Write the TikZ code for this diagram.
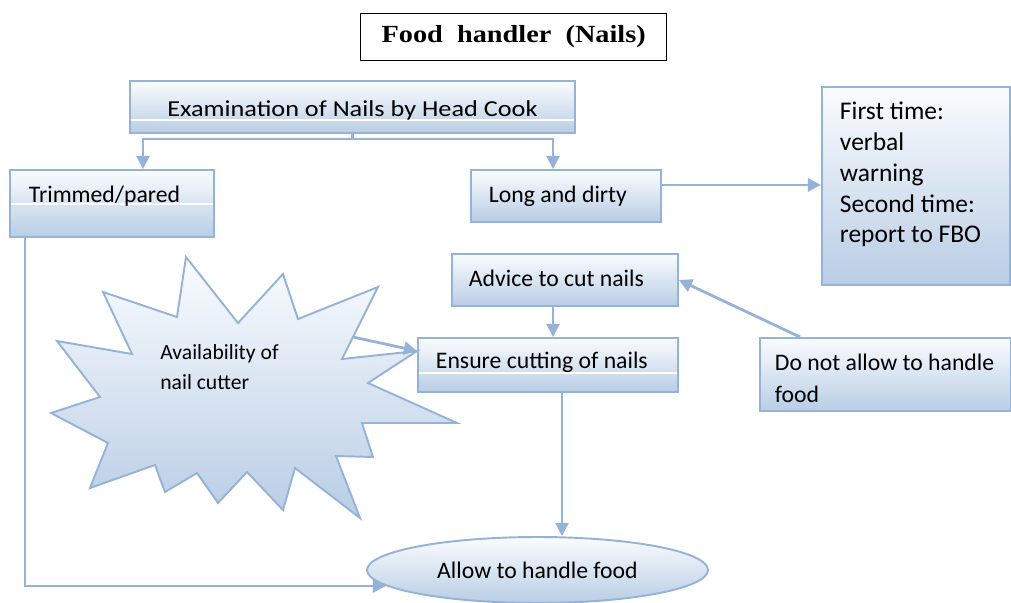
\documentclass[tikz,border=0pt]{standalone}
\usepackage{fontspec}
\setmainfont{Carlito}
\newfontfamily\stretchfont[FakeStretch=1.15]{Carlito}
\newfontfamily\titlefont[FakeStretch=1.15]{Liberation Serif}
\usetikzlibrary{arrows.meta,shapes.geometric}
\definecolor{NailEdge}{HTML}{95B3D7}
\definecolor{NailFill}{HTML}{B9CDE5}
\definecolor{NailTop}{HTML}{FAFCFE}

\begin{document}
\begin{tikzpicture}[
    box/.style={draw=NailEdge,line width=1.1pt,top color=NailTop,bottom color=NailFill,anchor=north west,inner ysep=0pt,align=flush left,font=\fontsize{13.5}{18.2}\selectfont},
    glossbox/.style={box,path picture={\draw[white,line width=0.8pt] ([yshift=#1]path picture bounding box.south west) -- ([yshift=#1]path picture bounding box.south east);}},
    burst/.style={draw=NailEdge,line width=1.1pt,top color=NailTop,bottom color=NailFill,line join=miter},
    arrow/.style={-{Triangle[length=7.5pt,width=7.5pt]},line width=1.6pt,draw=NailEdge},
    thinarrow/.style={arrow,line width=1.2pt}
  ]
    \useasboundingbox (0,0) rectangle (20.22,-12.06);
    \node[draw=black,line width=0.8pt,anchor=north west,inner xsep=0.2cm,inner ysep=0pt,text width=5.72cm,text height=0.58cm,text depth=0.36cm,align=flush center,font=\titlefont\fontsize{14}{17}\selectfont\bfseries] (title) at (7.2,-0.26) {Food\ \ handler\ \ (Nails)};
    \node[glossbox=0.26cm,inner xsep=0.3cm,text width=8.3cm,text height=0.71cm,text depth=0.33cm,align=flush center,font=\stretchfont\fontsize{13}{16}\selectfont] (exam) at (2.58,-1.6) {Examination of Nails by Head Cook};
    \node[glossbox=0.66cm,inner xsep=0.38cm,text width=3.32cm,text height=0.66cm,text depth=0.68cm] (trim) at (0.18,-3.38) {Trimmed/pared};
    \node[box,inner xsep=0.36cm,text width=3.08cm,text height=0.66cm,text depth=0.38cm] (long) at (9.4,-3.38) {Long and dirty};
    \node[box,inner xsep=0.36cm,text width=3.04cm,text height=0.66cm,text depth=3.30cm,font=\fontsize{14.5}{17.5}\selectfont] (info) at (16.42,-1.72) {First time:\\verbal\\warning\\Second time:\\report to FBO};
    \node[box,inner xsep=0.34cm,text width=3.84cm,text height=0.66cm,text depth=0.38cm] (advice) at (9.02,-5.06) {Advice to cut nails};
    \node[glossbox=0.38cm,inner xsep=0.36cm,text width=4.48cm,text height=0.62cm,text depth=0.46cm] (ensure) at (8.34,-6.74) {Ensure cutting of nails};
    \node[box,inner xsep=0.3cm,text width=4.42cm,text height=0.66cm,text depth=0.8cm] (donot) at (15.18,-6.74) {Do not allow to handle\\food};
    \node[ellipse,draw=NailEdge,line width=1.1pt,top color=NailTop,bottom color=NailFill,minimum width=6.82cm,minimum height=1.32cm,inner sep=0pt,font=\fontsize{13.5}{16}\selectfont] (allow) at (10.75,-11.40) {Allow to handle food};

    \draw[burst] (3.72,-5.14) -- (4.76,-6.46) -- (5.66,-5.48) -- (5.96,-6.38) -- (7.56,-5.74) -- (6.84,-7.18) -- (8.34,-7.02) -- (7.36,-7.66) -- (9.14,-8.46) -- (7.24,-8.46) -- (7.46,-9.14) -- (6.72,-9.12) -- (7.20,-10.36) -- (5.90,-9.36) -- (5.66,-10.20) -- (4.94,-9.44) -- (4.36,-10.06) -- (3.94,-9.46) -- (3.30,-9.84) -- (3.10,-9.30) -- (1.80,-9.76) -- (2.16,-8.86) -- (1.02,-8.26) -- (2.00,-7.94) -- (1.14,-6.82) -- (2.64,-7.08) -- (2.06,-5.84) -- (3.54,-6.34) -- cycle;
    \node[anchor=north west,inner sep=0pt,text width=3cm,text height=0.4cm,align=flush left,font=\fontsize{12.3}{17}\selectfont] (cutter) at (3.2,-6.78) {Availability of\\nail cutter};
    \coordinate (burstout) at (7.06,-6.74);

    \coordinate (split) at ([yshift=-0.1cm]exam.south);
    \draw[arrow,-] (exam.south) -- (split);
    \draw[arrow] (split) -| ([xshift=2.68cm]trim.north west);
    \draw[arrow] (split) -| ([xshift=1.66cm]long.north west);
    \draw[arrow] ([yshift=0.22cm]long.east) -- ([yshift=0.22cm]long.east -| info.west);
    \draw[arrow] ([xshift=2.04cm]advice.south west) -- ([xshift=2.04cm]advice.south west |- ensure.north);
    \draw[arrow] ([xshift=0.82cm]donot.north west) -- (advice.east);
    \draw[arrow] (burstout) -- ([yshift=0.28cm]ensure.west);
    \draw[thinarrow] ([xshift=2.9cm]ensure.south west) -- ([xshift=2.9cm]ensure.south west |- allow.north);
    \draw[thinarrow] ([xshift=0.32cm]trim.south west) |- (allow.186);
  \end{tikzpicture}
\end{document}
